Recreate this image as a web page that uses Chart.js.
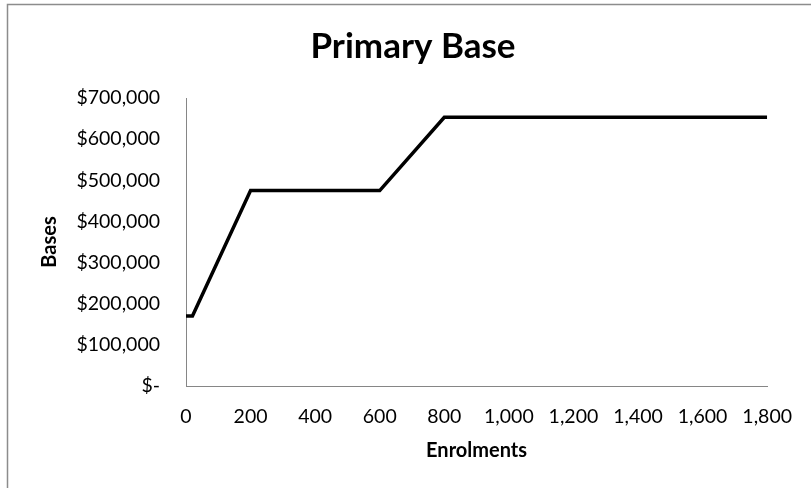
<!DOCTYPE html>
<html>
<head>
<meta charset="utf-8">
<script src="https://cdn.jsdelivr.net/npm/chart.js@4"></script>
<style>
  html, body { margin: 0; padding: 0; background: #ffffff; }
  #wrap { position: relative; width: 811px; height: 488px; }
</style>
</head>
<body>
<div id="wrap"><canvas id="c" width="811" height="488"></canvas></div>
<script>
const chartTitle = "Primary Base";
const xAxisTitle = "Enrolments";
const yAxisTitle = "Bases";
const enrolments = [0, 20, 200, 600, 800, 1800];
const bases = [170000, 170000, 475000, 475000, 653000, 653000];
const xTickValues = [0, 200, 400, 600, 800, 1000, 1200, 1400, 1600, 1800];
const yTickValues = [0, 100000, 200000, 300000, 400000, 500000, 600000, 700000];

const points = enrolments.map((x, i) => ({ x: x, y: bases[i] }));

const framePlugin = {
  id: 'frame',
  beforeDraw(chart) {
    const ctx = chart.ctx;
    ctx.save();
    ctx.fillStyle = '#ffffff';
    ctx.fillRect(0, 0, chart.width, chart.height);
    ctx.strokeStyle = '#8c8c8c';
    ctx.lineWidth = 1.5;
    ctx.beginPath();
    ctx.moveTo(7.5, chart.height);
    ctx.lineTo(7.5, 4.5);
    ctx.lineTo(chart.width, 4.5);
    ctx.stroke();
    ctx.restore();
  }
};

const fmtMoney = v => v === 0 ? '$-' : '$' + Number(v).toLocaleString('en-US');

new Chart(document.getElementById('c'), {
  type: 'line',
  data: {
    datasets: [{
      data: points,
      borderColor: '#000000',
      borderWidth: 3.5,
      pointRadius: 0,
      fill: false,
      tension: 0,
      borderJoinStyle: 'miter'
    }]
  },
  plugins: [framePlugin],
  options: {
    responsive: false,
    animation: false,
    layout: { padding: { left: 57, right: 42, top: 0, bottom: 0 } },
    plugins: {
      legend: { display: false },
      tooltip: { enabled: false },
      title: {
        display: true,
        text: chartTitle,
        color: '#000000',
        font: { family: 'Lato', size: 35, weight: 'bold' },
        padding: { top: 26, bottom: 30 }
      }
    },
    scales: {
      x: {
        type: 'linear',
        min: xTickValues[0],
        max: xTickValues[xTickValues.length - 1],
        afterBuildTicks: s => { s.ticks = xTickValues.map(v => ({ value: v })); },
        afterFit: s => { s.height = 102; },
        grid: { display: false, drawTicks: false },
        border: { display: true, color: '#868686', width: 1 },
        ticks: {
          color: '#000000',
          padding: 19,
          maxRotation: 0,
          autoSkip: false,
          font: { family: 'Lato', size: 19.5 },
          callback: v => Number(v).toLocaleString('en-US')
        },
        title: {
          display: true,
          text: xAxisTitle,
          color: '#000000',
          font: { family: 'Lato', size: 20, weight: 'bold' },
          padding: { top: 0, bottom: 25 }
        }
      },
      y: {
        type: 'linear',
        min: yTickValues[0],
        max: yTickValues[yTickValues.length - 1],
        afterBuildTicks: s => { s.ticks = yTickValues.map(v => ({ value: v })); },
        afterFit: s => { s.width = 129; },
        grid: { display: false, drawTicks: false },
        border: { display: true, color: '#868686', width: 1 },
        ticks: {
          color: '#000000',
          padding: 26,
          autoSkip: false,
          font: { family: 'Lato', size: 19.5 },
          callback: v => fmtMoney(v)
        },
        title: {
          display: true,
          text: yAxisTitle,
          color: '#000000',
          font: { family: 'Lato', size: 20, weight: 'bold' },
          padding: { top: -19, bottom: 0 }
        }
      }
    }
  }
});
</script>
</body>
</html>
